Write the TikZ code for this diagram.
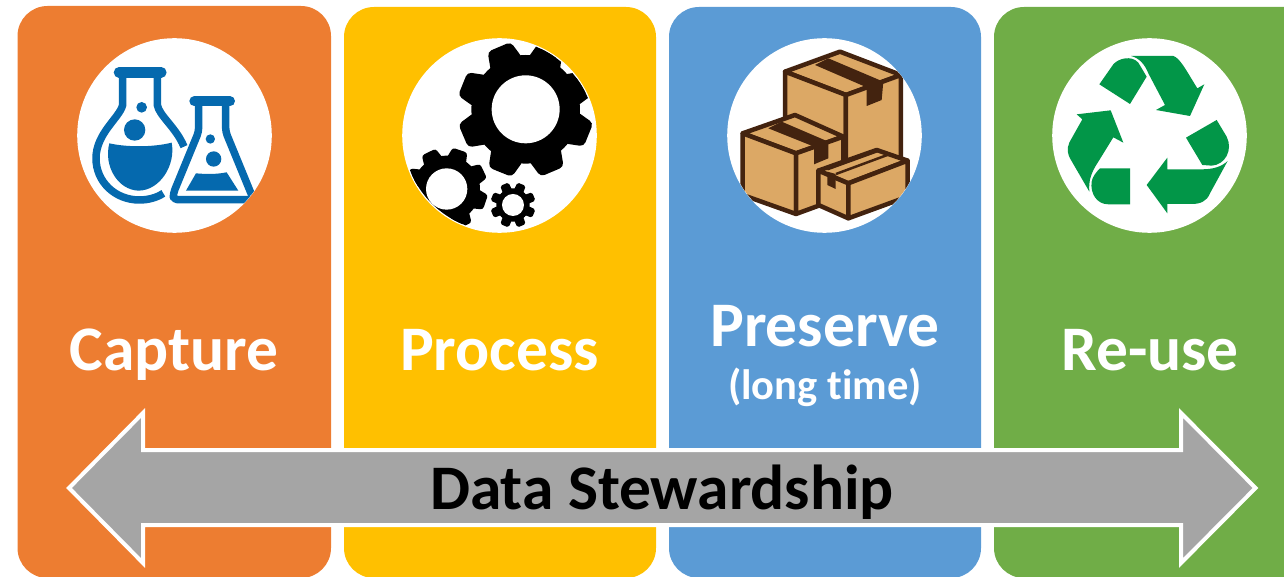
\documentclass[tikz,border=0pt]{standalone}
\usepackage{fontspec}
\setmainfont{Carlito}[BoldFont={Carlito Bold}]
\definecolor{cOrange}{HTML}{ED7D31}
\definecolor{cYellow}{HTML}{FFC000}
\definecolor{cBlue}{HTML}{5B9BD5}
\definecolor{cGreen}{HTML}{70AD47}
\definecolor{cGray}{HTML}{A5A5A5}
\definecolor{cFlask}{HTML}{0569AE}
\definecolor{cBox}{HTML}{DCA865}
\definecolor{cBoxDark}{HTML}{43230F}
\definecolor{cRecycle}{HTML}{029648}
\tikzset{
  card/.style={rounded corners=30pt,draw=none},
  badge/.style={fill=white,draw=none},
  label/.style={text=white,font=\bfseries\fontsize{63.5}{66}\selectfont,inner sep=0pt,anchor=base},
  sublabel/.style={text=white,font=\bfseries\fontsize{42.5}{44}\selectfont,inner sep=0pt,anchor=base},
  banner/.style={text=black,font=\bfseries\fontsize{63.5}{66}\selectfont,inner sep=0pt,anchor=base},
  flaskline/.style={draw=cFlask,line width=7.5pt,line join=round,fill=none},
  boxface/.style={fill=cBox,draw=cBoxDark,line width=4.5pt,line join=round},
  boxtape/.style={fill=cBoxDark,draw=none},
  recycle/.style={fill=cRecycle,draw=none},
  icon/.style={shift={(#1,30)},x=0.3333pt,y=-0.3333pt}
}
\newcommand{\gearicon}[6]{%
  \begin{scope}[shift={(#1,#2)},y=0.3333pt]
    \fill[black] (0,0) circle[radius=#3];
    \foreach \k in {0,...,7}{
      \pgfmathsetmacro{\ang}{#6+45*\k}
      \pgfmathsetmacro{\lw}{0.16*#4}
      \pgfmathsetmacro{\tip}{#4-0.08*#4}
      \filldraw[black,line join=round,line width=0.3333*\lw pt]
        (\ang-12:#3-6) -- (\ang-7.5:\tip) -- (\ang+7.5:\tip) -- (\ang+12:#3-6) -- cycle;
    }
    \fill[white] (0,0) circle[radius=#5];
  \end{scope}}
\begin{document}
\begin{tikzpicture}[x=1pt,y=-1pt]
\useasboundingbox (0,0) rectangle (1284,577);
% cards
\fill[card,cOrange] (17.5,6) rectangle (331,578);
\fill[card,cYellow] (344,7) rectangle (656,578);
\fill[card,cBlue] (669,7) rectangle (981,578);
\fill[card,cGreen] (994,7) rectangle (1340,578);
% badges
\fill[badge] (174.5,135.5) circle[radius=97.3];
\fill[badge] (499.5,135.5) circle[radius=97.3];
\fill[badge] (824.5,135.5) circle[radius=97.3];
\fill[badge] (1149.5,135.5) circle[radius=97.3];

% flasks
\begin{scope}
\clip (174.5,135.5) circle[radius=97];
\begin{scope}[icon=70]
  \draw[cFlask,line width=10.5pt,line cap=round] (147,127) -- (274,127);
  \draw[flaskline,line cap=butt] (158,135) -- (158,225) .. controls (150,262) and (78,310) .. (78,385)
     .. controls (78,455) and (135,510) .. (208,510) .. controls (235,510) and (260,503) .. (280,490);
  \draw[flaskline,line cap=butt] (262,135) -- (262,225) .. controls (268,258) and (318,292) .. (342,350);
  \fill[cFlask] (118,340) .. controls (170,352) and (250,352) .. (305,338)
     .. controls (318,405) and (270,482) .. (205,482) .. controls (145,480) and (100,410) .. (118,340) -- cycle;
  \fill[cFlask] (215,232) circle[radius=16];
  \fill[cFlask] (194,300) circle[radius=32];
  \draw[cFlask,line width=10pt,line cap=round] (373,214) -- (480,214);
  \draw[flaskline,rounded corners=4pt,line cap=butt] (386,225) -- (386,305) -- (310,490) -- (310,509) -- (560,509);
  \draw[flaskline,rounded corners=4pt,line cap=butt] (467,225) -- (467,305) -- (545,495);
  \fill[cFlask] (378,430) .. controls (410,433) and (440,433) .. (470,427) -- (505,482) -- (348,482) -- cycle;
  \fill[cFlask] (421,327) circle[radius=14];
  \fill[cFlask] (431,387) circle[radius=23];
\end{scope}
\end{scope}

% gears
\begin{scope}
\clip (499.5,135.5) circle[radius=96];
\begin{scope}[icon=395]
  \gearicon{392}{238}{163}{205}{102}{23}
  \gearicon{155}{477}{100}{124}{62}{26}
  \gearicon{354}{525}{50}{68}{33}{22.5}
\end{scope}
\end{scope}

% boxes
\begin{scope}
\clip (824.5,135.5) circle[radius=97];
\begin{scope}[icon=720]
  \draw[boxface] (195,125) -- (360,65) -- (543,135) -- (378,195) -- cycle;
  \draw[boxface] (195,125) -- (378,195) -- (378,400) -- (195,400) -- cycle;
  \draw[boxface] (378,195) -- (543,135) -- (543,400) -- (378,400) -- cycle;
  \fill[boxtape] (285,105) -- (325,85) -- (490,155) -- (485,210) -- (440,228) -- (440,172) -- cycle;
  \draw[boxface] (68,310) -- (225,255) -- (370,320) -- (228,370) -- cycle;
  \draw[boxface] (68,310) -- (228,370) -- (228,552) -- (68,495) -- cycle;
  \draw[boxface] (228,370) -- (370,320) -- (370,500) -- (228,552) -- cycle;
  \fill[boxtape] (145,295) -- (185,275) -- (325,335) -- (325,385) -- (282,403) -- (282,350) -- cycle;
  \draw[boxface] (295,422) -- (470,360) -- (563,392) -- (385,460) -- cycle;
  \draw[boxface] (295,422) -- (385,460) -- (385,565) -- (295,525) -- cycle;
  \draw[boxface] (385,460) -- (563,392) -- (563,500) -- (385,565) -- cycle;
  \draw[cBoxDark,line width=2.5pt] (322,418) -- (482,360);
  \draw[cBoxDark,line width=2.5pt] (348,432) -- (510,372);
  \fill[boxtape] (322,425) -- (347,432) -- (347,477) -- (322,465) -- cycle;
\end{scope}
\end{scope}

% recycling
\begin{scope}[icon=1045]
  \fill[recycle] (163,163) -- (205,103) .. controls (220,85) and (260,75) .. (280,98) -- (305,140) -- (255,222) -- cycle;
  \fill[recycle] (258,78) -- (385,78) .. controls (405,85) and (420,115) .. (457,175) -- (478,163) -- (435,258) -- (333,240) -- (360,225) -- (310,130) .. controls (300,105) and (285,85) .. (258,78) -- cycle;
  \fill[recycle] (423,323) -- (515,270) -- (545,320) .. controls (565,360) and (540,405) .. (500,407) -- (472,405) -- cycle;
  \fill[recycle] (548,393) -- (495,490) .. controls (485,515) and (465,522) .. (440,522) -- (367,522) -- (367,550) -- (305,465) -- (367,383) -- (367,418) -- (470,418) .. controls (505,418) and (530,410) .. (548,393) -- cycle;
  \fill[recycle] (133,485) -- (75,385) .. controls (62,360) and (70,340) .. (80,325) -- (112,268) -- (95,253) -- (197,241) -- (235,338) -- (205,322) -- (160,395) .. controls (140,425) and (130,450) .. (133,485) -- cycle;
  \fill[recycle] (255,415) -- (255,523) -- (190,523) .. controls (155,523) and (135,490) .. (140,455) .. controls (142,440) and (155,425) .. (165,415) -- cycle;
\end{scope}

% double arrow
\draw[fill=cGray,draw=white,line width=4pt,miter limit=10]
  (69,488) -- (143,413) -- (143,450) -- (1181,450) -- (1181,413) -- (1255.5,488)
  -- (1181,563) -- (1181,525) -- (143,525) -- (143,563) -- cycle;

% labels
\node[label] (capture) at (174,370) {Capture};
\node[label] (process) at (499.5,370) {Process};
\node[label] (preserve) at (825,346) {Preserve};
\node[sublabel] (longtime) at (825,399) {(long t\kern0pt ime)};
\node[label] (reuse) at (1150,370) {Re-use};
\node[banner] (steward) at (662,509) {Data Stewardship};
\end{tikzpicture}
\end{document}
